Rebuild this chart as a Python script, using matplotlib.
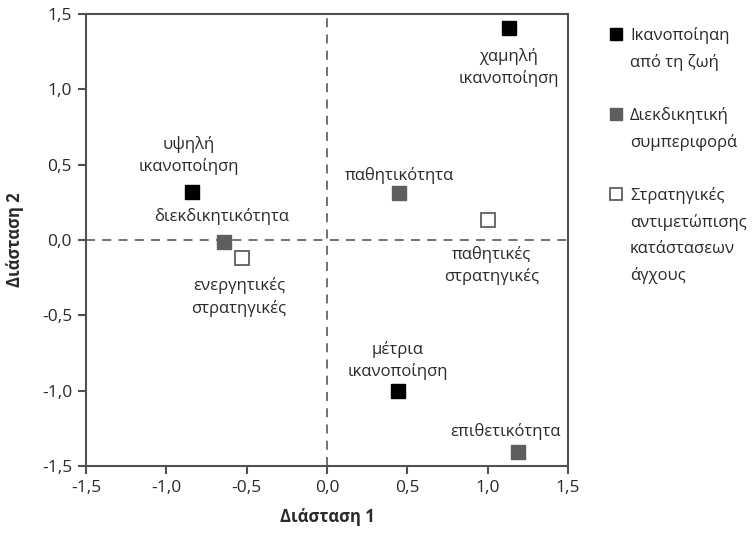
import matplotlib
matplotlib.use("Agg")
import matplotlib.pyplot as plt
from matplotlib.ticker import FuncFormatter, MultipleLocator
from matplotlib.lines import Line2D

plt.rcParams['font.family'] = ['Open Sans', 'DejaVu Sans']

# --- data ---
sat_labels = ["υψηλή\nικανοποίηση", "χαμηλή\nικανοποίηση", "μέτρια\nικανοποίηση"]
sat_x = [-0.84, 1.13, 0.44]
sat_y = [0.32, 1.41, -1.00]

asr_labels = ["διεκδικητικότητα", "παθητικότητα", "επιθετικότητα"]
asr_x = [-0.64, 0.45, 1.19]
asr_y = [-0.01, 0.31, -1.41]

cop_labels = ["ενεργητικές\nστρατηγικές", "παθητικές\nστρατηγικές"]
cop_x = [-0.53, 1.00]
cop_y = [-0.12, 0.13]

legend_labels = ["Ικανοποίηαη\nαπό τη ζωή", "Διεκδικητική\nσυμπεριφορά",
                 "Στρατηγικές\nαντιμετώπισης\nκατάστασεων\nάγχους"]
x_label = "Διάσταση 1"
y_label = "Διάσταση 2"

# label offsets (pixels, relative to marker)
sat_off = [(-3, 36), (0, -40), (0, 30)]
asr_off = [(-3, 25), (0, 18), (-13, 21)]
cop_off = [(-3, -39), (4, -45)]

W, H = 756, 538
fig = plt.figure(figsize=(W / 100, H / 100), dpi=100)
ax = fig.add_axes([86 / W, 1 - 466 / H, (568 - 86) / W, (466 - 14) / H])

spine_col = "#505050"
txt_col = "#2a2a2a"
ms = 9.5
ax.plot(sat_x, sat_y, ls="none", marker="s", ms=ms, mfc="black", mec="black", zorder=3)
ax.plot(asr_x, asr_y, ls="none", marker="s", ms=ms, mfc="#5e5e5e", mec="#5e5e5e", zorder=3)
ax.plot(cop_x, cop_y, ls="none", marker="s", ms=ms, mfc="white", mec="#5e5e5e", mew=1.3, zorder=3)

ax.axhline(0, color="#666666", ls=(0, (5, 4)), lw=1.3, zorder=1)
ax.axvline(0, color="#666666", ls=(0, (5, 4)), lw=1.3, zorder=1)

fs = 12
for labels, xs, ys, offs in [(sat_labels, sat_x, sat_y, sat_off),
                             (asr_labels, asr_x, asr_y, asr_off),
                             (cop_labels, cop_x, cop_y, cop_off)]:
    for lab, x, y, (dx, dy) in zip(labels, xs, ys, offs):
        ax.annotate(lab, (x, y), xytext=(dx * 0.72, dy * 0.72), textcoords="offset points",
                    ha="center", va="center", fontsize=fs, color=txt_col, linespacing=1.4)

ax.set_xlim(-1.5, 1.5)
ax.set_ylim(-1.5, 1.5)
ax.xaxis.set_major_locator(MultipleLocator(0.5))
ax.yaxis.set_major_locator(MultipleLocator(0.5))
fmt = FuncFormatter(lambda v, p: f"{v:.1f}".replace(".", ","))
ax.xaxis.set_major_formatter(fmt)
ax.yaxis.set_major_formatter(fmt)

for s in ax.spines.values():
    s.set_color(spine_col)
    s.set_linewidth(1.5)
ax.tick_params(direction="out", length=6, width=1.5, color=spine_col,
               labelsize=12.5, labelcolor=txt_col, pad=4)

ax.set_xlabel(x_label, fontsize=12, fontweight="bold", labelpad=9, color=txt_col)
ax.set_ylabel(y_label, fontsize=12, fontweight="bold", labelpad=13, color=txt_col)

# legend
h1 = Line2D([], [], ls="none", marker="s", ms=8.5, mfc="black", mec="black")
h2 = Line2D([], [], ls="none", marker="s", ms=8.5, mfc="#5e5e5e", mec="#5e5e5e")
h3 = Line2D([], [], ls="none", marker="s", ms=8.5, mfc="white", mec="#5e5e5e", mew=1.3)
blank = Line2D([], [], ls="none")
handles, labs = [], []
for h, lab in zip([h1, h2, h3], legend_labels):
    lines = lab.split("\n")
    handles.append(h)
    labs.append(lines[0])
    for ln in lines[1:]:
        handles.append(blank)
        labs.append(ln)
    handles.append(blank)
    labs.append(" ")
handles, labs = handles[:-1], labs[:-1]
leg = fig.legend(handles, labs, loc="upper left", bbox_to_anchor=(610 / W, 1 - 27 / H),
                 frameon=False, fontsize=fs, handlelength=0.75, handletextpad=0.45,
                 labelspacing=0.6, borderpad=0, borderaxespad=0)
for t in leg.get_texts():
    t.set_color(txt_col)

fig.savefig("out.png", dpi=100)
